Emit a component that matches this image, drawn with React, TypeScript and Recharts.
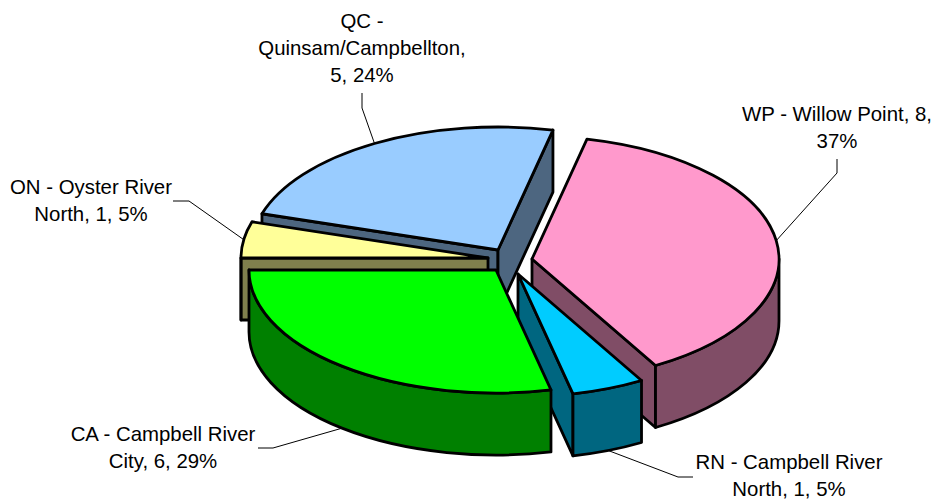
import { PieChart, Pie, Cell } from "recharts";

const codes = ["QC", "WP", "RN", "CA", "ON"];
const values = [5, 8, 1, 6, 1];
const topColors = ["#99CCFF", "#FF99CC", "#00CCFF", "#00FF00", "#FFFF99"];
const sideColors = ["#4D6680", "#804D66", "#006680", "#008000", "#80804D"];
const labelLines = [
  ["QC -", "Quinsam/Campbellton,", "5, 24%"],
  ["WP - Willow Point, 8,", "37%"],
  ["RN - Campbell River", "North, 1, 5%"],
  ["CA - Campbell River", "City, 6, 29%"],
  ["ON - Oyster River", "North, 1, 5%"],
];

const data = codes.map((code, i) => ({ code, value: values[i] }));

// how far each slice is pulled out of the pie, px
const offsets: Record<string, [number, number]> = {
  ON: [-17, -4],
  QC: [-7, -12],
  WP: [27, -3],
  RN: [13, 12],
  CA: [-9, 8],
};

// label text centre + first baseline, then leader knee and leader end
const labelPos: Record<string, { x: number; y: number; knee: [number, number]; end: [number, number] }> = {
  ON: { x: 91, y: 194, knee: [189, 201], end: [173, 201] },
  QC: { x: 362, y: 28, knee: [362, 108], end: [362, 93] },
  WP: { x: 837, y: 121, knee: [837, 173], end: [837, 159] },
  RN: { x: 789, y: 469, knee: [678, 477], end: [693, 477] },
  CA: { x: 163, y: 441, knee: [273, 448], end: [258, 448] },
};

const TILT = 0.498;
const DEPTH = 62;
const RAD = Math.PI / 180;
const START_ANGLE = 162.86;

// paint order: these two sit behind the rest, QC first
const backSlices = ["QC", "ON"];

function Slice3D(props: any) {
  const { cx, cy, outerRadius: rx, startAngle, endAngle, code, index } = props;
  const ry = rx * TILT;
  const [dx, dy] = offsets[code];
  const ax = cx + dx;
  const ay = cy + dy;
  const pt = (a: number, z = 0) => `${ax + rx * Math.cos(a * RAD)} ${ay - ry * Math.sin(a * RAD) + z}`;
  const side = sideColors[index];
  const style = { stroke: "#000", strokeWidth: 2.8, strokeLinejoin: "round" as const };

  const walls: string[] = [];
  // radial walls, only the ones facing the viewer
  if (Math.cos(startAngle * RAD) < 0) {
    walls.push(`M${ax} ${ay}L${pt(startAngle)}L${pt(startAngle, DEPTH)}L${ax} ${ay + DEPTH}Z`);
  }
  if (Math.cos(endAngle * RAD) > 0) {
    walls.push(`M${ax} ${ay}L${pt(endAngle)}L${pt(endAngle, DEPTH)}L${ax} ${ay + DEPTH}Z`);
  }
  // curved wall, lower half of the ellipse
  const a1 = Math.min(startAngle, 0);
  const a2 = Math.max(endAngle, -180);
  if (a1 > a2) {
    walls.push(
      `M${pt(a1)}A${rx} ${ry} 0 0 1 ${pt(a2)}L${pt(a2, DEPTH)}A${rx} ${ry} 0 0 0 ${pt(a1, DEPTH)}Z`
    );
  }
  const large = startAngle - endAngle > 180 ? 1 : 0;
  const top = `M${ax} ${ay}L${pt(startAngle)}A${rx} ${ry} 0 ${large} 1 ${pt(endAngle)}Z`;

  return (
    <g>
      {walls.map((d, i) => (
        <path key={i} d={d} fill={side} {...style} />
      ))}
      <path d={top} fill={props.fill} {...style} />
    </g>
  );
}

const BackSlice = (props: any) => (backSlices.includes(props.code) ? <Slice3D {...props} /> : <g />);
const FrontSlice = (props: any) => (backSlices.includes(props.code) ? <g /> : <Slice3D {...props} />);

function renderLabel(props: any) {
  const { cx, cy, outerRadius: rx, midAngle, code, index } = props;
  const pos = labelPos[code];
  const [dx, dy] = offsets[code];
  const ry = rx * TILT;
  const sx = cx + dx + rx * Math.cos(midAngle * RAD);
  const z = Math.sin(midAngle * RAD) < 0 ? DEPTH : 0;
  const sy = cy + dy - ry * Math.sin(midAngle * RAD) + z;
  return (
    <g>
      <polyline
        points={`${sx},${sy} ${pos.knee[0]},${pos.knee[1]} ${pos.end[0]},${pos.end[1]}`}
        fill="none"
        stroke="#000"
        strokeWidth={1}
      />
      <text textAnchor="middle" fontFamily="Liberation Sans" fontSize={20.4} fill="#000">
        {labelLines[index].map((line, i) => (
          <tspan key={i} x={pos.x} y={pos.y + i * 27}>
            {line}
          </tspan>
        ))}
      </text>
    </g>
  );
}

export default function App() {
  const cells = data.map((entry, i) => <Cell key={entry.code} fill={topColors[i]} />);
  return (
    <div style={{ position: "absolute", left: 0, top: 0, width: 935, height: 502, background: "#fff" }}>
      <PieChart width={935} height={502} margin={{ top: 0, right: 0, bottom: 0, left: 0 }}>
        <Pie
          data={data}
          dataKey="value"
          nameKey="code"
          cx={505}
          cy={262}
          outerRadius={247}
          startAngle={START_ANGLE}
          endAngle={START_ANGLE - 360}
          shape={BackSlice}
          label={false}
          isAnimationActive={false}
        >
          {cells}
        </Pie>
        <Pie
          data={data}
          dataKey="value"
          nameKey="code"
          cx={505}
          cy={262}
          outerRadius={247}
          startAngle={START_ANGLE}
          endAngle={START_ANGLE - 360}
          shape={FrontSlice}
          label={renderLabel}
          labelLine={false}
          isAnimationActive={false}
        >
          {cells}
        </Pie>
      </PieChart>
    </div>
  );
}
